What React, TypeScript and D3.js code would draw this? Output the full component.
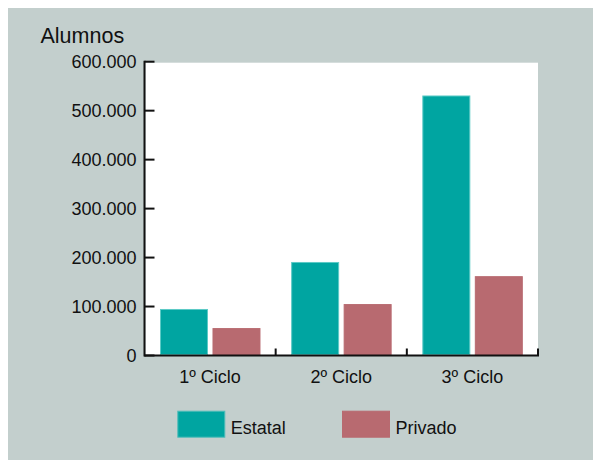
import React from "react";
import * as d3 from "d3";

const categories = ["1º Ciclo", "2º Ciclo", "3º Ciclo"];
const seriesNames = ["Estatal", "Privado"];
const estatal = [95000, 191000, 531000];
const privado = [56000, 105000, 162000];
const yTicks = [0, 100000, 200000, 300000, 400000, 500000, 600000];

const W = 593;
const H = 452;
const left = 136.5;
const right = 530;
const top = 53.7;
const bottom = 347.5;
const colors: Record<string, string> = { Estatal: "#00A5A1", Privado: "#B86A70" };
const strokes: Record<string, string> = { Estatal: "#5CCAC6", Privado: "#B86A70" };
const FONT = "'Liberation Sans', Arial, Helvetica, sans-serif";

const fmt = (v: number) => (v === 0 ? "0" : d3.format(",")(v).replace(/,/g, "."));

export default function App() {
  const x0 = d3.scaleBand<string>().domain(categories).range([left, right]).padding(0);
  const x1 = d3
    .scaleBand<string>()
    .domain(seriesNames)
    .range([15.5, x0.bandwidth() - 15.2])
    .paddingInner(0.086)
    .paddingOuter(0);
  const y = d3.scaleLinear().domain([0, 600000]).range([bottom, top]);
  const data = categories.map((c, i) => ({ c, Estatal: estatal[i], Privado: privado[i] }));

  return (
    <svg width={W} height={H} style={{ display: "block" }} fontFamily={FONT}>
      <rect x={0} y={0} width={W} height={H} fill="#C3CFCD" />
      <rect x={left + 1} y={top + 1} width={right - left - 1} height={bottom - top - 1} fill="#FFFFFF" />
      {data.map((d) =>
        seriesNames.map((s) => {
          const v = (d as any)[s] as number;
          const bx = (x0(d.c) as number) + (x1(s) as number);
          return (
            <rect
              key={d.c + s}
              x={bx + 0.5}
              y={y(v) + 0.5}
              width={x1.bandwidth() - 1}
              height={bottom - 1 - y(v) - 0.5}
              fill={colors[s]}
              stroke={strokes[s]}
              strokeWidth={1}
            />
          );
        })
      )}
      {/* y axis */}
      <line x1={left} x2={left} y1={top - 1} y2={bottom + 1} stroke="#111" strokeWidth={2} />
      {yTicks.map((t) => (
        <g key={t}>
          <line x1={left} x2={left + 10} y1={y(t)} y2={y(t)} stroke="#111" strokeWidth={2} />
          <text x={left - 8} y={y(t)} dy="0.36em" textAnchor="end" fontSize={18} fill="#111">
            {fmt(t)}
          </text>
        </g>
      ))}
      {/* x axis */}
      <line x1={left} x2={right + 1} y1={bottom} y2={bottom} stroke="#111" strokeWidth={2} />
      {categories.map((c) => (
        <line
          key={c}
          x1={(x0(c) as number) + x0.bandwidth()}
          x2={(x0(c) as number) + x0.bandwidth()}
          y1={bottom}
          y2={bottom - 7}
          stroke="#111"
          strokeWidth={2}
        />
      ))}
      {categories.map((c) => (
        <text
          key={c}
          x={(x0(c) as number) + x0.bandwidth() / 2}
          y={bottom + 27.5}
          textAnchor="middle"
          fontSize={18}
          fill="#111"
        >
          {c}
        </text>
      ))}
      <text x={32.5} y={35} fontSize={21.5} fill="#111">
        Alumnos
      </text>
      {/* legend */}
      {seriesNames.map((s, i) => {
        const lx = [169.3, 334][i];
        return (
          <g key={s}>
            <rect x={lx + 0.5} y={402.7 + 0.5} width={47} height={26} fill={colors[s]} stroke={i === 0 ? "#4FBDB9" : colors[s]} />
            <text x={lx + 53.5} y={426.3} fontSize={18} fill="#111">
              {s}
            </text>
          </g>
        );
      })}
    </svg>
  );
}
